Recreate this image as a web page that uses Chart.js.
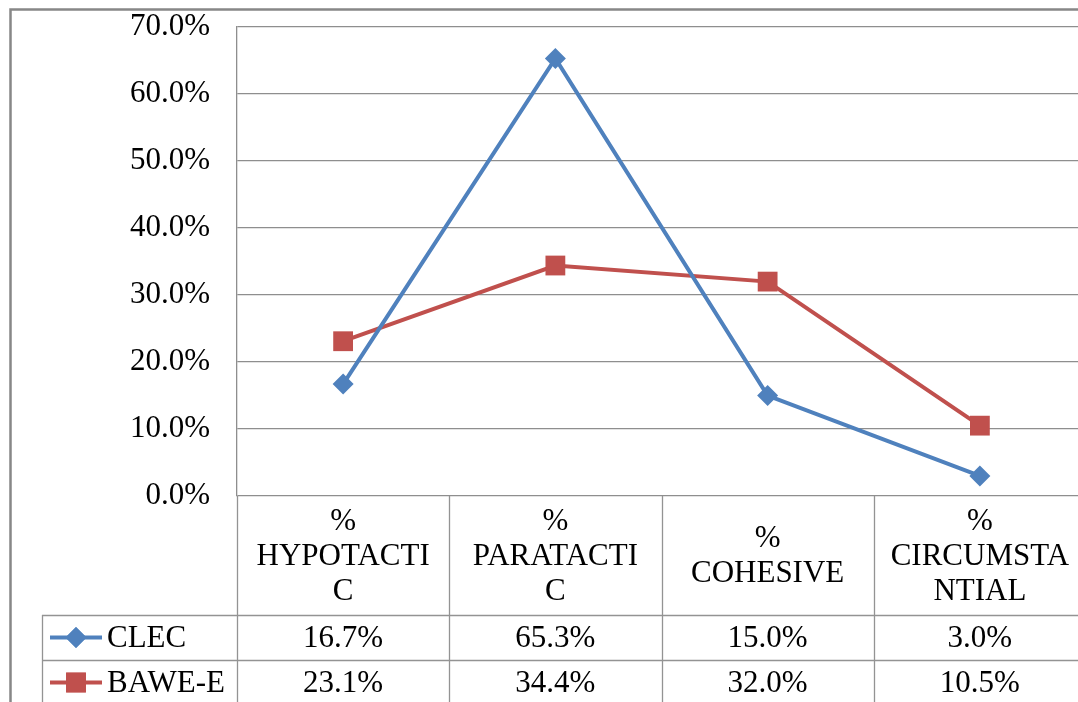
<!DOCTYPE html>
<html>
<head>
<meta charset="utf-8">
<script src="https://cdn.jsdelivr.net/npm/chart.js@4/dist/chart.umd.min.js"></script>
<style>
  html, body { margin: 0; padding: 0; overflow: hidden; background: #fff; }
  canvas { display: block; }
</style>
</head>
<body>
<canvas id="chart" width="1100" height="720"></canvas>
<script>
// Category labels, wrapped the way the data table shows them
const categories = [
  ['%', 'HYPOTACTI', 'C'],
  ['%', 'PARATACTI', 'C'],
  ['%', 'COHESIVE'],
  ['%', 'CIRCUMSTA', 'NTIAL']
];
const seriesNames = ['CLEC', 'BAWE-E'];
const clecValues = [16.7, 65.3, 15.0, 3.0];
const baweValues = [23.1, 34.4, 32.0, 10.5];
const yMin = 0, yMax = 70, yStep = 10;

const BLUE = '#4f81bd';
const RED = '#c0504d';
const GRID = '#8e8e8e';
const FONT = '"Liberation Serif", "Times New Roman", serif';
const FONT_SIZE = 31;

function pct(v) { return v.toFixed(1) + '%'; }

// Frame around the whole chart
const framePlugin = {
  id: 'frame',
  beforeDraw(chart) {
    const ctx = chart.ctx;
    ctx.save();
    ctx.fillStyle = '#fff';
    ctx.fillRect(0, 0, chart.width, chart.height);
    ctx.strokeStyle = '#878787';
    ctx.lineWidth = 2.5;
    ctx.strokeRect(10.5, 9.5, chart.width + 20, chart.height + 20);
    ctx.restore();
  }
};

// Data table under the plot: category headers, legend keys, values
const tablePlugin = {
  id: 'dataTable',
  afterDraw(chart) {
    const ctx = chart.ctx;
    const xs = chart.scales.x;
    const area = chart.chartArea;
    const n = categories.length;
    const colW = (area.right - area.left) / n;
    const headTop = area.bottom;
    const row1 = headTop + 119;
    const row2 = row1 + 45;
    const row3 = row2 + 45;
    const keyLeft = 42;

    ctx.save();
    ctx.strokeStyle = '#939393';
    ctx.lineWidth = 1.3;
    ctx.beginPath();
    // vertical column separators
    for (let i = 0; i <= n; i++) {
      const x = Math.round(area.left + i * colW) + 0.5;
      ctx.moveTo(x, headTop);
      ctx.lineTo(x, chart.height);
    }
    // left edge of the legend column
    ctx.moveTo(keyLeft + 0.5, row1);
    ctx.lineTo(keyLeft + 0.5, chart.height);
    // row separators
    [row1, row2, row3].forEach(y => {
      ctx.moveTo(keyLeft, y + 0.5);
      ctx.lineTo(chart.width, y + 0.5);
    });
    ctx.stroke();

    ctx.fillStyle = '#000';
    ctx.font = FONT_SIZE + 'px ' + FONT;
    ctx.textAlign = 'center';
    ctx.textBaseline = 'middle';
    const lh = 35;
    categories.forEach((lines, i) => {
      const cx = xs.getPixelForValue(i);
      const mid = (headTop + row1) / 2;
      const y0 = mid - (lines.length - 1) * lh / 2;
      lines.forEach((t, k) => ctx.fillText(t, cx, y0 + k * lh + 1));
    });

    const rows = [
      { name: seriesNames[0], vals: clecValues, color: BLUE, style: 'rectRot', r: 10.5, y: (row1 + row2) / 2 },
      { name: seriesNames[1], vals: baweValues, color: RED, style: 'rect', r: 14, y: (row2 + row3) / 2 }
    ];
    rows.forEach(row => {
      ctx.textAlign = 'center';
      ctx.fillStyle = '#000';
      row.vals.forEach((v, i) => ctx.fillText(pct(v), xs.getPixelForValue(i), row.y + 1));
      // legend key
      ctx.strokeStyle = row.color;
      ctx.lineWidth = 4;
      ctx.beginPath();
      ctx.moveTo(50, row.y);
      ctx.lineTo(102, row.y);
      ctx.stroke();
      ctx.fillStyle = row.color;
      Chart.helpers.drawPoint(ctx, { pointStyle: row.style, radius: row.r, borderWidth: 0 }, 76, row.y);
      ctx.fill();
      ctx.fillStyle = '#000';
      ctx.textAlign = 'left';
      ctx.fillText(row.name, 107, row.y + 1);
    });
    ctx.restore();
  }
};

new Chart(document.getElementById('chart'), {
  type: 'line',
  data: {
    labels: categories,
    datasets: [
      {
        label: seriesNames[0],
        data: clecValues,
        borderColor: BLUE,
        backgroundColor: BLUE,
        borderWidth: 4,
        pointStyle: 'rectRot',
        pointRadius: 10.5,
        pointBorderWidth: 0,
        tension: 0
      },
      {
        label: seriesNames[1],
        data: baweValues,
        borderColor: RED,
        backgroundColor: RED,
        borderWidth: 4,
        pointStyle: 'rect',
        pointRadius: 14,
        pointBorderWidth: 0,
        tension: 0
      }
    ]
  },
  options: {
    responsive: false,
    animation: false,
    layout: { padding: { top: 27, right: 11, bottom: 224, left: 0 } },
    plugins: { legend: { display: false }, tooltip: { enabled: false } },
    scales: {
      x: {
        type: 'category',
        offset: true,
        display: false
      },
      y: {
        min: yMin,
        max: yMax,
        afterFit(scale) {
          scale.width = 237;
          scale.paddingTop = 0;
          scale.paddingBottom = 0;
        },
        ticks: {
          stepSize: yStep,
          padding: 27,
          color: '#000',
          font: { family: FONT, size: FONT_SIZE },
          callback: v => pct(v)
        },
        grid: { color: GRID, lineWidth: 1.3, drawTicks: false },
        border: { color: GRID, width: 1.3 }
      }
    }
  },
  plugins: [framePlugin, tablePlugin]
});
</script>
</body>
</html>
